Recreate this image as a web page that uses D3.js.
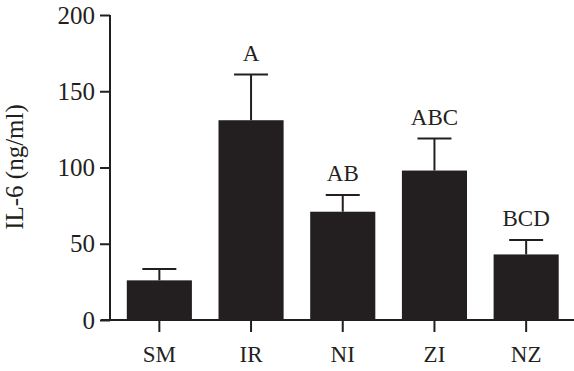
<!DOCTYPE html>
<html lang="en">
  <head>
    <meta charset="UTF-8" />
    <script src="https://d3js.org/d3.v7.min.js"></script>
    <title>IL-6</title>
    <style>
      body { margin: 0; background: #fff; }
      text { font-family: "Liberation Serif", "DejaVu Serif", serif; fill: #231f20; }
    </style>
  </head>
  <body>
    <svg id="chart" width="574" height="371"></svg>

    <script>
      // data
      const groups = ["SM", "IR", "NI", "ZI", "NZ"];
      const means = [26, 131, 71, 98, 43];
      const errors = [7.5, 30, 11, 21, 9.5];
      const letters = ["", "A", "AB", "ABC", "BCD"];
      const yTicks = [0, 50, 100, 150, 200];

      const svg = d3.select("#chart");
      const ink = "#231f20";

      const y = d3.scaleLinear().domain([0, 200]).range([320, 15]);
      const x = d3
        .scaleBand()
        .domain(groups)
        .range([113.5, 572])
        .paddingInner(0.29)
        .paddingOuter(0.145);

      // y axis
      const yAxis = svg
        .append("g")
        .attr("transform", "translate(110,0)")
        .call(d3.axisLeft(y).tickValues(yTicks).tickSize(10).tickPadding(5));
      yAxis.select(".domain").attr("d", `M0,${y(200)}V${y(0)}`);
      yAxis.selectAll("line, path").attr("stroke", ink).attr("stroke-width", 2);
      yAxis.selectAll("text").attr("font-size", 25).style("font-family", null);

      // bars
      svg
        .append("g")
        .selectAll("rect")
        .data(groups)
        .enter()
        .append("rect")
        .attr("x", (d) => x(d))
        .attr("width", x.bandwidth())
        .attr("y", (d, i) => y(means[i]))
        .attr("height", (d, i) => y(0) - y(means[i]))
        .attr("fill", ink);

      // error bars (upper only)
      const eb = svg.append("g").attr("stroke", ink).attr("stroke-width", 2);
      groups.forEach((g, i) => {
        const cx = x(g) + x.bandwidth() / 2;
        const top = y(means[i] + errors[i]);
        eb.append("line")
          .attr("x1", cx).attr("x2", cx)
          .attr("y1", y(means[i])).attr("y2", top);
        eb.append("line")
          .attr("x1", cx - 17).attr("x2", cx + 17)
          .attr("y1", top).attr("y2", top);
        svg.append("text")
          .attr("x", cx)
          .attr("y", top - 13.5)
          .attr("text-anchor", "middle")
          .attr("font-size", 23)
          .text(letters[i]);
      });

      // x axis
      const xAxis = svg
        .append("g")
        .attr("transform", "translate(0,320)")
        .call(d3.axisBottom(x).tickSize(12).tickPadding(14));
      xAxis.select(".domain").attr("d", "M101,0H574");
      xAxis.selectAll("line, path").attr("stroke", ink).attr("stroke-width", 2);
      xAxis.selectAll("text").attr("font-size", 23).style("font-family", null);

      // y label
      svg
        .append("text")
        .attr("transform", "translate(23,167) rotate(-90)")
        .attr("text-anchor", "middle")
        .attr("font-size", 25)
        .text("IL-6 (ng/ml)");
    </script>
  </body>
</html>
